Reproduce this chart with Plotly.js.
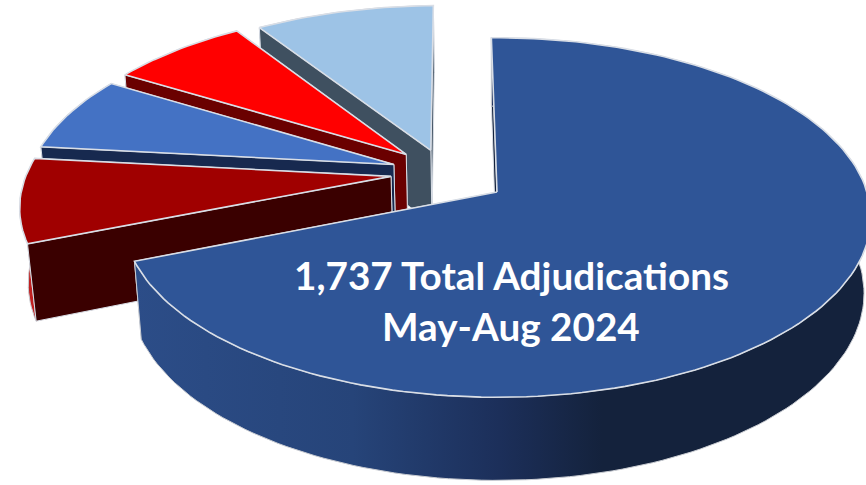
<!DOCTYPE html>
<html><head><meta charset="utf-8">
<script src="https://cdn.plot.ly/plotly-3.0.1.min.js"></script>
<style>html,body{margin:0;padding:0;background:#fff}#c{width:866px;height:485px}</style>
</head><body><div id="c"></div>
<script>
// Data: adjudication counts per slice, clockwise from 12 o'clock
const values = [1202, 135, 120, 122, 158];
const chartTitleLines = ['1,737 Total Adjudications', 'May-Aug 2024'];

// Styles
const topColors  = ['#2f5597', '#a00000', '#4472c4', '#ff0000', '#9dc3e6'];
const wallColors = ['#14223c', '#3a0000', '#17294f', '#6a0000', '#3f5060'];
const rimScales  = [
  [[0, '#2c4d88'], [0.3, '#264479'], [0.5, '#1c2f5a'], [0.64, '#14223c'], [1, '#14223c']],
  [[0, '#c02020'], [1, '#a00000']],
  [[0, '#4472c4'], [1, '#4472c4']],
  [[0, '#ff0000'], [1, '#ff0000']],
  [[0, '#9dc3e6'], [1, '#9dc3e6']]
];
// Exploded offset of each slice on the pie's plane (pie radius = 1)
const explodeX = [0, -0.29, -0.285, -0.253, -0.185];
const explodeY = [0, 0.09, 0.16, 0.22, 0.245];

// Perspective camera of the 3-D pie
const cam = {cx: 497, cy: 192, F: 2294, D: 6.2, s: 0.476, c: 0.88, h: 0.235, start: -1};
function project(X, Y, Z) {
  const depth = cam.D + Y * cam.c - Z * cam.s;
  return [cam.cx + cam.F * X / depth, cam.cy - cam.F * (Y * cam.s + Z * cam.c) / depth];
}
function polar(i, deg) {
  const t = deg * Math.PI / 180;
  return [explodeX[i] + Math.sin(t), explodeY[i] + Math.cos(t)];
}
const traces = [];
function poly(pts, fill, lineColor, lineWidth, scale) {
  const P = pts.concat([pts[0]]).map(p => project(p[0], p[1], p[2]));
  const t = {type: 'scatter', mode: 'lines', x: P.map(p => p[0]), y: P.map(p => p[1]),
    fill: 'toself', hoverinfo: 'skip', showlegend: false,
    line: {color: lineColor, width: lineWidth}};
  if (scale) {
    t.fillgradient = {type: 'horizontal', colorscale: scale, start: 133, stop: 866};
  } else {
    t.fillcolor = fill;
  }
  traces.push(t);
}

const total = values.reduce((a, b) => a + b, 0);
const spans = [];
let acc = cam.start;
values.forEach(v => { const a1 = acc + v / total * 360; spans.push([acc, a1]); acc = a1; });

// Paint from the back slice to the front slice
[4, 3, 2, 1, 0].forEach(i => {
  const [a0, a1] = spans[i], ox = explodeX[i], oy = explodeY[i], h = cam.h;
  const n = Math.max(8, Math.round((a1 - a0) / 1.5));
  const angs = []; for (let k = 0; k <= n; k++) angs.push(a0 + (a1 - a0) * k / n);
  const edge = '#d9dee6';
  const walls = () => [a1, a0].forEach(a => {
    const p = polar(i, a);
    poly([[ox, oy, 0], [p[0], p[1], 0], [p[0], p[1], -h], [ox, oy, -h]], wallColors[i], edge, 1);
  });
  const rim = () => {
    const upper = angs.map(a => { const p = polar(i, a); return [p[0], p[1], 0]; });
    const lower = angs.slice().reverse().map(a => { const p = polar(i, a); return [p[0], p[1], -h]; });
    poly(upper.concat(lower), null, '#c9ccd2', 1, rimScales[i]);
  };
  // The big slice shows its curved wall in front; the exploded ones show a straight wall
  if (i === 0) { walls(); rim(); } else { rim(); walls(); }
  // top face
  const topPts = [[ox, oy, 0]].concat(angs.map(a => { const p = polar(i, a); return [p[0], p[1], 0]; }));
  poly(topPts, topColors[i], edge, 1.6);
});

const layout = {
  width: 866, height: 485, margin: {l: 0, r: 0, t: 0, b: 0},
  paper_bgcolor: '#fff', plot_bgcolor: '#fff', showlegend: false,
  xaxis: {range: [0, 866], visible: false, fixedrange: true},
  yaxis: {range: [485, 0], visible: false, fixedrange: true},
  annotations: chartTitleLines.map((t, k) => ({
    text: t, x: 511, y: [275, 326][k], xref: 'x', yref: 'y', showarrow: false,
    xanchor: 'center', yanchor: 'middle',
    font: {family: 'Lato, "Noto Sans", sans-serif', size: 38.7, color: '#fff', weight: 700}
  }))
};
Plotly.newPlot('c', traces, layout, {staticPlot: true, displayModeBar: false});
</script></body></html>
